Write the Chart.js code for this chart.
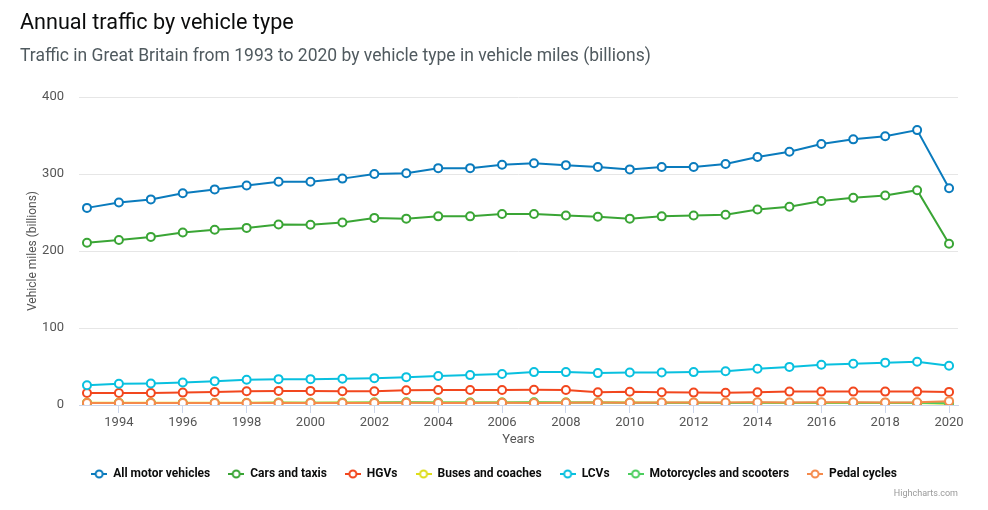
<!DOCTYPE html>
<html>
<head>
    <title>Annual traffic by vehicle type</title>
    <script src="https://cdn.jsdelivr.net/npm/chart.js"></script>
    <style>
        body { margin: 0; background: #fff; font-family: Roboto, "Noto Sans", sans-serif; }
        #wrap { position: relative; width: 988px; height: 510px; }
        #trafficChart { position: absolute; left: 0; top: 0; }
        h2 { position: absolute; left: 20px; top: 9px; margin: 0; font-size: 21.6px; font-weight: 400; color: #0b0c0c; }
        .sub { position: absolute; left: 20px; top: 45px; margin: 0; font-size: 17.5px; color: #505a5f; }
        .credit { position: absolute; right: 30px; top: 488px; font-size: 9px; color: #999; }
    </style>
</head>
<body>
<div id="wrap">
    <canvas id="trafficChart" width="988" height="510"></canvas>
    <h2>Annual traffic by vehicle type</h2>
    <p class="sub">Traffic in Great Britain from 1993 to 2020 by vehicle type in vehicle miles (billions)</p>
    <div class="credit">Highcharts.com</div>
</div>

<script>
    // vehicle miles, billions
    var years = [1993, 1994, 1995, 1996, 1997, 1998, 1999, 2000, 2001, 2002, 2003, 2004, 2005, 2006,
                 2007, 2008, 2009, 2010, 2011, 2012, 2013, 2014, 2015, 2016, 2017, 2018, 2019, 2020];
    var xTickYears = [1994, 1996, 1998, 2000, 2002, 2004, 2006, 2008, 2010, 2012, 2014, 2016, 2018, 2020];
    var yTicks = [0, 100, 200, 300, 400];

    var allMotor = [256, 263, 267, 275, 280, 285, 290, 290, 294, 300, 301, 307.6, 307.6, 312,
                    314, 311.5, 309, 306, 309, 309, 313, 322, 329, 339, 345, 349, 357, 281.5];
    var cars = [210.8, 214.4, 218.3, 224, 227.5, 230, 234.4, 234, 237, 243, 242, 245, 245, 248,
                248, 246, 244.5, 242, 245, 246, 247, 254, 257.5, 265, 269, 272, 279, 209.5];
    var hgvs = [15.7, 15.7, 15.7, 16.1, 17, 17.9, 18.3, 18.3, 17.9, 17.9, 19.2, 19.4, 19.4, 19.4,
                19.8, 19.4, 16.6, 17.2, 16.6, 16.1, 15.9, 16.6, 17.4, 17.4, 17.4, 17.4, 17.4, 17.0];
    var buses = [3.0, 3.0, 3.0, 3.0, 3.0, 3.0, 3.1, 3.0, 3.1, 3.2, 3.3, 3.3, 3.2, 3.3,
                 3.3, 3.3, 3.2, 3.1, 3.0, 2.9, 2.8, 2.8, 2.7, 2.7, 2.6, 2.6, 2.5, 1.7];
    var lcvs = [25.7, 27.5, 27.9, 29.2, 31, 32.7, 33.6, 33.6, 34, 34.9, 36.2, 37.7, 38.8, 40.3,
                42.7, 42.7, 41.4, 42.3, 42.3, 42.7, 43.8, 47, 49.5, 52.3, 53.6, 55, 56.2, 51];
    var motorcycles = [2.5, 2.5, 2.5, 2.5, 2.6, 2.6, 2.8, 2.9, 3.0, 3.2, 3.5, 3.2, 3.3, 3.3,
                       3.5, 3.2, 3.2, 2.9, 2.9, 2.9, 2.7, 2.8, 2.8, 2.9, 2.9, 2.8, 2.8, 2.3];
    var pedalCycles = [2.6, 2.6, 2.6, 2.6, 2.6, 2.5, 2.6, 2.6, 2.6, 2.7, 2.8, 2.6, 2.7, 2.8,
                       2.7, 2.9, 3.1, 3.0, 3.1, 3.1, 3.2, 3.5, 3.3, 3.5, 3.5, 3.4, 3.5, 5.0];

    var seriesNames = ['All motor vehicles', 'Cars and taxis', 'HGVs', 'Buses and coaches',
                       'LCVs', 'Motorcycles and scooters', 'Pedal cycles'];
    var seriesData = [allMotor, cars, hgvs, buses, lcvs, motorcycles, pedalCycles];
    var seriesColors = ['#0a7bbd', '#3aa535', '#f2471e', '#dedd1a', '#09c0df', '#4cce5e', '#f58a4b'];

    // little "-o-" swatch for the legend
    function legendMarker(color) {
        var c = document.createElement('canvas');
        c.width = 16; c.height = 12;
        var g = c.getContext('2d');
        g.strokeStyle = color;
        g.lineWidth = 2;
        g.beginPath(); g.moveTo(0, 6); g.lineTo(16, 6); g.stroke();
        g.beginPath(); g.arc(8, 6, 3.5, 0, Math.PI * 2);
        g.fillStyle = '#fff'; g.fill(); g.stroke();
        return c;
    }

    var datasets = seriesNames.map(function (name, i) {
        return {
            label: name,
            data: years.map(function (y, j) { return { x: y, y: seriesData[i][j] }; }),
            borderColor: seriesColors[i],
            backgroundColor: seriesColors[i],
            borderWidth: 2,
            pointStyle: 'circle',
            pointRadius: 4,
            pointBorderWidth: 2,
            pointBackgroundColor: '#fff',
            pointBorderColor: seriesColors[i],
            order: seriesNames.length - i,   // later series drawn on top, like the original
            fill: false
        };
    });

    var ctx = document.getElementById('trafficChart').getContext('2d');
    var chart = new Chart(ctx, {
        type: 'line',
        data: { datasets: datasets },
        options: {
            responsive: false,
            animation: false,
            layout: { padding: { top: 97, left: 0, right: 0, bottom: 20 } },
            plugins: {
                tooltip: { enabled: false },
                legend: {
                    position: 'bottom',
                    labels: {
                        usePointStyle: true,
                        pointStyleWidth: 16,
                        padding: 18,
                        color: '#0b0c0c',
                        font: { family: 'Roboto', size: 12, weight: 'bold' },
                        sort: function (a, b) { return a.datasetIndex - b.datasetIndex; },
                        generateLabels: function (ch) {
                            return ch.data.datasets.map(function (ds, i) {
                                return {
                                    text: ds.label,
                                    datasetIndex: i,
                                    pointStyle: legendMarker(ds.borderColor),
                                    fillStyle: ds.borderColor,
                                    strokeStyle: ds.borderColor,
                                    lineWidth: 0,
                                    fontColor: '#0b0c0c',
                                    hidden: !ch.isDatasetVisible(i)
                                };
                            });
                        }
                    }
                }
            },
            scales: {
                x: {
                    type: 'linear',
                    min: 1992.75,
                    max: 2020.28,
                    afterBuildTicks: function (s) {
                        s.ticks = xTickYears.map(function (v) { return { value: v }; });
                    },
                    afterFit: function (s) { s.height = 45; },
                    grid: { drawOnChartArea: false, drawTicks: true, tickLength: 8, color: '#ccd6eb' },
                    border: { color: '#ccd6eb' },
                    ticks: {
                        padding: 2,
                        color: '#555',
                        font: { family: 'Roboto', size: 13 },
                        maxRotation: 0,
                        autoSkip: false,
                        callback: function (v) { return String(v); }
                    },
                    title: {
                        display: true,
                        text: 'Years',
                        color: '#555',
                        font: { family: 'Roboto', size: 13 },
                        padding: { top: 0, bottom: 2 }
                    }
                },
                y: {
                    min: 0,
                    max: 400,
                    afterBuildTicks: function (s) {
                        s.ticks = yTicks.map(function (v) { return { value: v }; });
                    },
                    afterFit: function (s) { s.width = 79; },
                    grid: { color: '#e6e6e6', drawTicks: false },
                    border: { display: false },
                    ticks: { padding: 15, color: '#555', font: { family: 'Roboto', size: 13 } },
                    title: {
                        display: true,
                        text: 'Vehicle miles (billions)',
                        color: '#555',
                        font: { family: 'Roboto', size: 12 },
                        padding: { top: 26, bottom: 0 }
                    }
                },
                yRight: {
                    position: 'right',
                    display: true,
                    afterFit: function (s) { s.width = 30; },
                    grid: { display: false },
                    border: { display: false },
                    ticks: { display: false }
                }
            }
        }
    });
</script>
</body>
</html>
